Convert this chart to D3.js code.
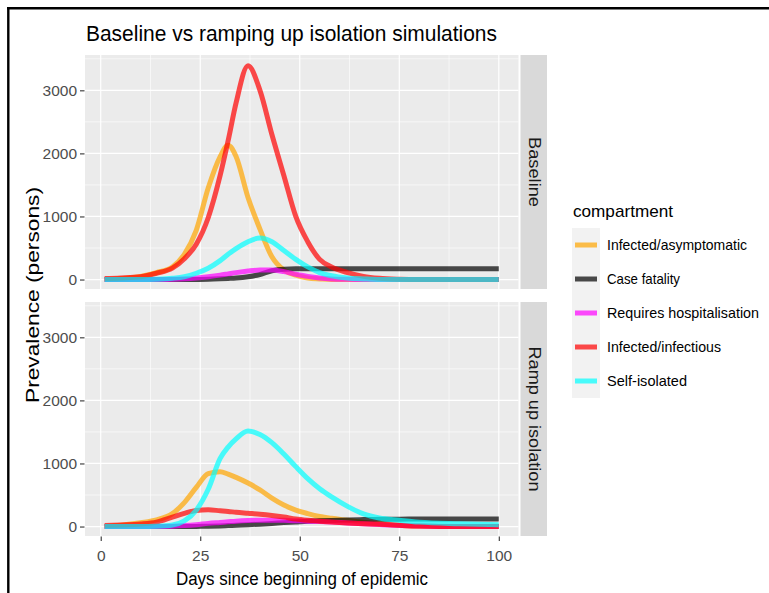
<!DOCTYPE html>
<html>
<head>
<meta charset="utf-8">
<script src="https://cdn.jsdelivr.net/npm/d3@7"></script>
<style>
  body { margin: 0; background: #fff; }
  svg { display: block; font-family: "Liberation Sans", Arial, sans-serif; }
</style>
</head>
<body>
<svg id="chart" width="769" height="593"></svg>
<script>
const days = [1, 5, 10, 14, 18, 21, 24, 27, 30, 32, 34, 37, 40, 43, 46, 49, 52, 55, 58, 62, 66, 70, 75, 80, 90, 100];

const compartments = ["Infected/asymptomatic", "Case fatality", "Requires hospitalisation", "Infected/infectious", "Self-isolated"];
const colours = ["#ffa500", "#000000", "#ff00ff", "#ff0000", "#00ffff"];
const facets = ["Baseline", "Ramp up isolation"];

// Baseline
const baseAsym   = [0, 15, 50, 110, 200, 400, 780, 1450, 1950, 2130, 1950, 1300, 800, 360, 150, 70, 25, 10, 0, 0, 0, 0, 0, 0, 0, 0];
const baseFatal  = [0, 0, 0, 0, 0, 0, 2, 5, 12, 18, 25, 45, 80, 140, 165, 170, 170, 170, 170, 170, 170, 170, 170, 170, 170, 170];
const baseHosp   = [0, 0, 0, 0, 5, 12, 25, 45, 70, 90, 110, 135, 150, 150, 125, 85, 50, 25, 10, 3, 0, 0, 0, 0, 0, 0];
const baseInfect = [15, 25, 45, 100, 180, 330, 560, 980, 1650, 2200, 2800, 3390, 3000, 2300, 1650, 1000, 600, 320, 200, 110, 50, 20, 5, 0, 0, 0];
const baseIsol   = [0, 0, 0, 5, 20, 45, 100, 180, 300, 400, 490, 600, 660, 600, 460, 320, 200, 110, 60, 25, 10, 0, 0, 0, 0, 0];

// Ramp up isolation
const rampAsym   = [0, 20, 60, 105, 205, 380, 620, 840, 870, 830, 780, 690, 580, 450, 340, 260, 205, 160, 130, 100, 70, 45, 20, 5, 0, 0];
const rampFatal  = [0, 0, 0, 0, 0, 0, 2, 5, 10, 15, 20, 28, 38, 50, 62, 72, 82, 90, 97, 104, 110, 114, 117, 118, 118, 118];
const rampHosp   = [0, 0, 0, 0, 5, 15, 30, 50, 65, 75, 85, 95, 100, 100, 98, 92, 85, 78, 70, 58, 45, 32, 18, 8, 0, 0];
const rampInfect = [15, 25, 40, 70, 150, 210, 255, 265, 250, 240, 225, 210, 195, 175, 150, 120, 100, 85, 70, 55, 45, 35, 20, 8, 0, 0];
const rampIsol   = [0, 0, 0, 5, 25, 90, 260, 590, 1080, 1260, 1390, 1515, 1460, 1330, 1150, 950, 760, 600, 470, 320, 200, 135, 100, 70, 45, 30];

const xTicks = [0, 25, 50, 75, 100];
const xMinor = [12.5, 37.5, 62.5, 87.5];
const yTicks = [0, 1000, 2000, 3000];
const yMinor = [500, 1500, 2500, 3500];

const series = [
  [baseAsym, baseFatal, baseHosp, baseInfect, baseIsol],
  [rampAsym, rampFatal, rampHosp, rampInfect, rampIsol]
];

const svg = d3.select("#chart");

// frame of the screenshot
svg.append("line").attr("x1", 7).attr("x2", 769).attr("y1", 8.3).attr("y2", 8.3)
  .attr("stroke", "#000").attr("stroke-width", 2.4);
svg.append("line").attr("x1", 8.3).attr("x2", 8.3).attr("y1", 7).attr("y2", 593)
  .attr("stroke", "#000").attr("stroke-width", 2.4);

const panelL = 85, panelR = 518.5, panelH = 234;
const panelTops = [55, 302];
const stripL = 520.5, stripR = 547;

const x = d3.scaleLinear().domain([-3.95, 104.95]).range([panelL, panelR]);

svg.append("text")
  .attr("x", 86).attr("y", 41)
  .attr("font-size", 22).attr("fill", "#000")
  .attr("textLength", 411).attr("lengthAdjust", "spacingAndGlyphs")
  .text("Baseline vs ramping up isolation simulations");

facets.forEach((facet, fi) => {
  const top = panelTops[fi];
  const y = d3.scaleLinear().domain([-150, 3560]).range([top + panelH, top]);
  const g = svg.append("g");

  g.append("rect").attr("x", panelL).attr("y", top)
    .attr("width", panelR - panelL).attr("height", panelH).attr("fill", "#ebebeb");

  // grid
  g.selectAll(".xminor").data(xMinor).enter().append("line")
    .attr("x1", d => x(d)).attr("x2", d => x(d)).attr("y1", top).attr("y2", top + panelH)
    .attr("stroke", "#fff").attr("stroke-width", 0.6);
  g.selectAll(".yminor").data(yMinor).enter().append("line")
    .attr("x1", panelL).attr("x2", panelR).attr("y1", d => y(d)).attr("y2", d => y(d))
    .attr("stroke", "#fff").attr("stroke-width", 0.6);
  g.selectAll(".xmajor").data(xTicks).enter().append("line")
    .attr("x1", d => x(d)).attr("x2", d => x(d)).attr("y1", top).attr("y2", top + panelH)
    .attr("stroke", "#fff").attr("stroke-width", 1.2);
  g.selectAll(".ymajor").data(yTicks).enter().append("line")
    .attr("x1", panelL).attr("x2", panelR).attr("y1", d => y(d)).attr("y2", d => y(d))
    .attr("stroke", "#fff").attr("stroke-width", 1.2);

  // y axis
  const yAxis = d3.axisLeft(y).tickValues(yTicks).tickSize(4.5).tickPadding(3).tickFormat(d3.format("d"));
  const ya = g.append("g").attr("transform", `translate(${panelL - 0.5},0)`).call(yAxis);
  ya.select(".domain").remove();
  ya.selectAll(".tick line").attr("stroke", "#333").attr("stroke-width", 1.1);
  ya.selectAll(".tick text").attr("fill", "#4d4d4d").attr("font-size", 15.5)
    .attr("font-family", "Liberation Sans, Arial, sans-serif");

  // lines
  const line = d3.line()
    .x((d, i) => x(days[i]))
    .y(d => y(d))
    .curve(d3.curveMonotoneX);
  series[fi].forEach((vals, si) => {
    g.append("path").datum(vals)
      .attr("d", line)
      .attr("fill", "none")
      .attr("stroke", colours[si])
      .attr("stroke-opacity", 0.7)
      .attr("stroke-width", 5)
      .attr("stroke-linejoin", "round")
      .attr("stroke-linecap", "butt");
  });

  // strip
  g.append("rect").attr("x", stripL).attr("y", top)
    .attr("width", stripR - stripL).attr("height", panelH).attr("fill", "#d9d9d9");
  const sy = top + panelH / 2;
  g.append("text")
    .attr("transform", `translate(${(stripL + stripR) / 2 + 0.5},${sy}) rotate(90)`)
    .attr("text-anchor", "middle").attr("dominant-baseline", "central")
    .attr("font-size", 16).attr("fill", "#1a1a1a")
    .attr("textLength", fi === 0 ? 70 : 145).attr("lengthAdjust", "spacingAndGlyphs")
    .text(facet);
});

// x axis (bottom panel only)
const xa = svg.append("g")
  .attr("transform", `translate(0,${panelTops[1] + panelH + 0.5})`)
  .call(d3.axisBottom(x).tickValues(xTicks).tickSize(4.5).tickPadding(9));
xa.select(".domain").remove();
xa.selectAll(".tick line").attr("stroke", "#333").attr("stroke-width", 1.1);
xa.selectAll(".tick text").attr("fill", "#4d4d4d").attr("font-size", 15.5)
  .attr("font-family", "Liberation Sans, Arial, sans-serif");

// axis titles
svg.append("text")
  .attr("x", 302).attr("y", 585).attr("text-anchor", "middle")
  .attr("font-size", 18).attr("fill", "#000")
  .attr("textLength", 252).attr("lengthAdjust", "spacingAndGlyphs")
  .text("Days since beginning of epidemic");
svg.append("text")
  .attr("transform", "translate(39,295) rotate(-90)")
  .attr("text-anchor", "middle")
  .attr("font-size", 18).attr("fill", "#000")
  .attr("textLength", 216).attr("lengthAdjust", "spacingAndGlyphs")
  .text("Prevalence (persons)");

// legend
const legend = svg.append("g");
legend.append("text").attr("x", 573).attr("y", 217)
  .attr("font-size", 17).attr("fill", "#000")
  .attr("textLength", 100).attr("lengthAdjust", "spacingAndGlyphs")
  .text("compartment");
const labelWidths = [140, 73, 152, 114, 80];
const keyH = 34, keyTop = 228;
const keys = legend.selectAll(".key").data(compartments).enter().append("g")
  .attr("transform", (d, i) => `translate(572,${keyTop + i * keyH})`);
keys.append("rect").attr("width", 28).attr("height", keyH).attr("fill", "#f2f2f2");
keys.append("line").attr("x1", 3).attr("x2", 25).attr("y1", keyH / 2).attr("y2", keyH / 2)
  .attr("stroke", (d, i) => colours[i]).attr("stroke-opacity", 0.7).attr("stroke-width", 5);
keys.append("text").attr("x", 35).attr("y", keyH / 2).attr("dy", "0.35em")
  .attr("font-size", 15).attr("fill", "#000")
  .attr("textLength", (d, i) => labelWidths[i]).attr("lengthAdjust", "spacingAndGlyphs")
  .text(d => d);
</script>
</body>
</html>
